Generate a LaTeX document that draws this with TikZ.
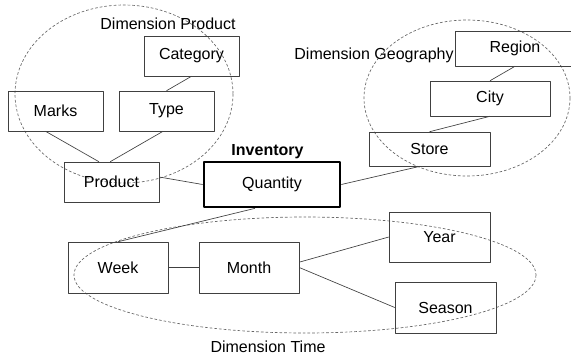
\documentclass[tikz,border=0pt]{standalone}
\usepackage{fontspec}
\setmainfont{Liberation Sans}
\begin{document}
\begin{tikzpicture}[x=0.75pt,y=-0.75pt,line join=round,
	font=\fontsize{12}{14}\selectfont,
	box/.style 2 args={draw=black!75,minimum width=#1*0.75pt,minimum height=#2*0.75pt,inner sep=0pt},
	dim/.style={draw=black!60,dash pattern=on 2pt off 1.5pt,line width=0.5pt},
	link/.style={draw=black!75,line width=0.5pt}]
	\useasboundingbox (0,0) rectangle (571,358);
	% dimensions
	\draw[dim] (124,94) ellipse [x radius=109,y radius=89];
	\draw[dim] (467,98) ellipse [x radius=103,y radius=78];
	\draw[dim] (305,275) ellipse [x radius=231,y radius=58];
	\node (dp) at (168,24) {Dimension Product};
	\node (dg) at (374,55) {Dimension Geography};
	\node (dt) at (268,347) {Dimension Time};
	% product
	\node[box={95}{40}] (category) at (191.5,56) {Category};
	\node[box={95}{40}] (marks) at (55.5,111) {Marks};
	\node[box={95}{40}] (type) at (166.5,111) {Type};
	\node[box={95}{40}] (product) at (111.5,182) {Product};
	% fact
	\node[box={136}{45},line width=2pt,draw=black] (quantity) at (272,184.5) {Quantity};
	\node[font=\fontsize{12}{14}\selectfont\bfseries] (inventory) at (267.5,152) {Inventory};
	% geography
	\node[box={120}{35}] (region) at (515,48.5) {Region};
	\node[box={120}{35}] (city) at (490,98.5) {City};
	\node[box={121}{34}] (store) at (429.5,149) {Store};
	% time
	\node[box={100}{51}] (week) at (118,267.5) {Week};
	\node[box={100}{51}] (month) at (249,267.5) {Month};
	\node[box={101}{50}] (year) at (439.5,237) {Year};
	\node[box={101}{51}] (season) at (445.5,307.5) {Season};
	% links
	\foreach \a/\b in {category.south/type.north,city.north/region.south,
		store.north/city.south,week.east/month.west,month.east/season.west}
	{\draw[link] (\a)--(\b);}
	\draw[link] ([xshift=-7.5pt]marks.south)--([xshift=-9.4pt]product.north);
	\draw[link] ([xshift=-2.6pt]type.south)--([xshift=-1pt]product.north);
	\draw[link] ([yshift=3.75pt]product.east)--(quantity.west);
	\draw[link] (quantity.east)--([xshift=-7pt]store.south);
	\draw[link] ([xshift=-12.75pt]quantity.south)--(week.north);
	\draw[link] ([yshift=4pt]month.east)--(year.west);
\end{tikzpicture}
\end{document}
